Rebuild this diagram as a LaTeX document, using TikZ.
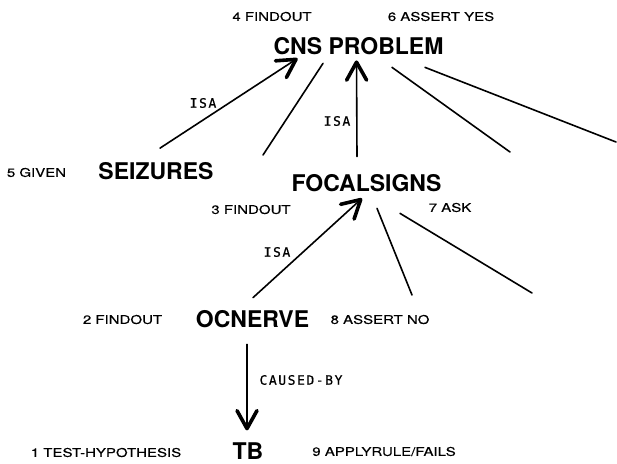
\documentclass[tikz,border=0pt]{standalone}
\usepackage{fontspec}
\setmainfont{TeX Gyre Heros}
\newfontfamily\tagfont[FakeStretch=1.25,FakeBold=0.4]{TeX Gyre Heros}
\newfontfamily\linkfont[LetterSpace=12,FakeBold=0.6]{DejaVu Sans Mono}
\usetikzlibrary{arrows.meta,calc}
\begin{document}
\begin{tikzpicture}[x=1pt,y=-1pt,
  concept/.style={font=\fontsize{23}{23}\selectfont\bfseries, inner sep=0pt},
  tag/.style={font=\tagfont\fontsize{12}{12}\selectfont, inner sep=0pt},
  linklabel/.style={font=\linkfont\fontsize{13}{13}\selectfont, inner sep=0pt},
  link/.style={line width=1.6pt, line cap=round},
  isa/.style={link, -{Straight Barb[length=18pt,width=20pt,line width=3.6pt,round]}},
]
\useasboundingbox (0,0) rectangle (617,463);

% concepts
\node[concept] (cns)   at (358.5,46.5) {CNS PROBLEM};
\node[concept] (seiz)  at (156,171)    {SEIZURES};
\node[concept] (focal) at (366.5,183.5){FOCALSIGNS};
\node[concept] (ocn)   at (252.5,319.5){OCNERVE};
\node[concept] (tb)    at (248,451)    {TB};

% step tags
\node[tag] (t4) at (272,16.5)  {4 FINDOUT};
\node[tag] (t6) at (441,16.5)  {6 ASSERT YES};
\node[tag] (t5) at (36.5,172.5){5 GIVEN};
\node[tag] (t3) at (251,209.5) {3 FINDOUT};
\node[tag] (t7) at (450,207.5) {7 ASK};
\node[tag] (t2) at (122.5,319.5){2 FINDOUT};
\node[tag] (t8) at (380,319.5) {8 ASSERT NO};
\node[tag] (t1) at (106,452.5) {1 TEST-HYPOTHESIS};
\node[tag] (t9) at (384,451.5) {9 APPLYRULE/FAILS};

% loose ends of unexplored links
\coordinate (e1) at (263,155);
\coordinate (e2) at (510,152);
\coordinate (e3) at (616,142);
\coordinate (e4) at (412,295);
\coordinate (e5) at (532,293);

% ISA links
\draw[isa] ($(seiz.north)+(4,-14)$) -- ($(cns.south)+(-61,3)$);
\node[linklabel] (l1) at (203,103) {ISA};
\draw[isa] ($(focal.north)+(-9.5,-18)$) -- ($(cns.south)+(-2,5)$);
\node[linklabel] (l2) at (337,121) {ISA};
\draw[isa] ($(ocn.north)+(0.5,-13)$) -- ($(focal.south)+(-4.5,6)$);
\node[linklabel] (l3) at (277,252) {ISA};

% causal link
\draw[isa] ($(ocn.south)+(-5.5,16)$) -- ($(tb.north)+(-1,-12)$);
\node[linklabel] (l4) at (301,380) {CAUSED-BY};

% plain links
\draw[link] ($(cns.south)+(-35.5,8)$) -- (e1);
\draw[link] ($(cns.south)+(33.5,12)$) -- (e2);
\draw[link] ($(cns.south)+(66.5,12)$) -- (e3);
\draw[link] ($(focal.south)+(10.5,16)$) -- (e4);
\draw[link] ($(focal.south)+(33.5,21)$) -- (e5);
\end{tikzpicture}
\end{document}
